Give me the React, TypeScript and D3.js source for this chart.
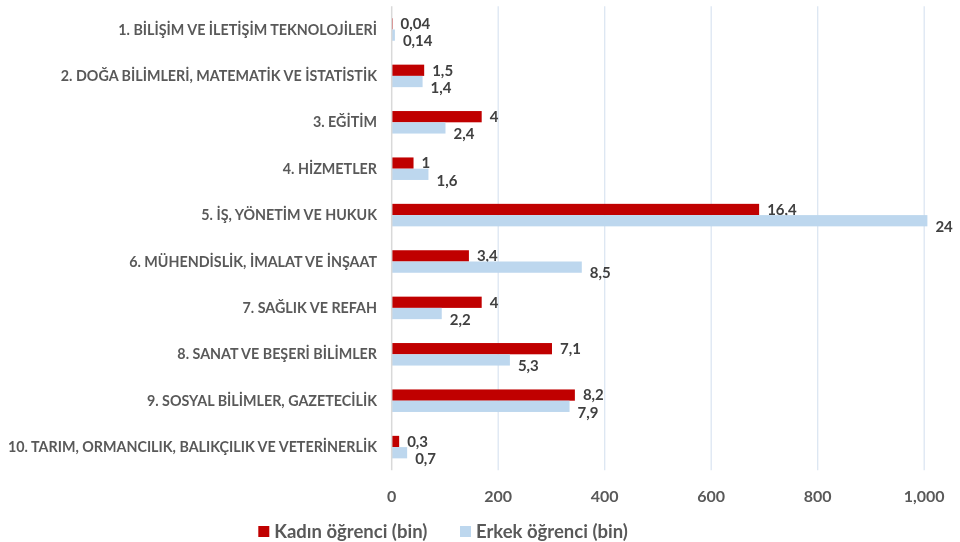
import React, { useEffect, useRef } from 'react';
import * as d3 from 'd3';

const categories = [
  '1. BİLİŞİM VE İLETİŞİM TEKNOLOJİLERİ',
  '2. DOĞA BİLİMLERİ, MATEMATİK VE İSTATİSTİK',
  '3. EĞİTİM',
  '4. HİZMETLER',
  '5. İŞ, YÖNETİM VE HUKUK',
  '6. MÜHENDİSLİK, İMALAT VE İNŞAAT',
  '7. SAĞLIK VE REFAH',
  '8. SANAT VE BEŞERİ BİLİMLER',
  '9. SOSYAL BİLİMLER, GAZETECİLİK',
  '10. TARIM, ORMANCILIK, BALIKÇILIK VE VETERİNERLİK',
];

// bar lengths (bin öğrenci)
const kadinValues = [1.7, 61, 169, 41, 690, 145, 169, 301, 344, 14];
const erkekValues = [6, 58, 101, 69, 1006, 357, 94, 222, 334, 29];

// printed data labels
const kadinLabels = ['0,04', '1,5', '4', '1', '16,4', '3,4', '4', '7,1', '8,2', '0,3'];
const erkekLabels = ['0,14', '1,4', '2,4', '1,6', '24', '8,5', '2,2', '5,3', '7,9', '0,7'];

const seriesNames = ['Kadın öğrenci (bin)', 'Erkek öğrenci (bin)'];
const xTicks = [0, 200, 400, 600, 800, 1000];

const colors = ['#C00000', '#BDD7EE'];
const font = 'Lato, "Open Sans", sans-serif';

const Chart = () => {
  const ref = useRef<SVGSVGElement | null>(null);

  useEffect(() => {
    if (!ref.current) return;
    const svg = d3.select(ref.current);
    svg.selectAll('*').remove();

    const x = d3.scaleLinear().domain([0, 1000]).range([391.7, 924.2]);
    const y = d3
      .scaleBand()
      .domain(categories)
      .range([6.3, 470.3])
      .paddingInner(0.515)
      .paddingOuter(0.2575);
    const ys = d3.scaleBand().domain(seriesNames).range([0, y.bandwidth()]);

    // gridlines
    svg
      .append('g')
      .selectAll('line')
      .data(xTicks.slice(1))
      .enter()
      .append('line')
      .attr('x1', d => x(d))
      .attr('x2', d => x(d))
      .attr('y1', 6.3)
      .attr('y2', 470.3)
      .attr('stroke', '#DCE6F2')
      .attr('stroke-width', 1.3);

    // tick labels
    svg
      .append('g')
      .selectAll('text')
      .data(xTicks)
      .enter()
      .append('text')
      .attr('x', d => x(d))
      .attr('y', 496)
      .attr('dy', '0.35em')
      .attr('text-anchor', 'middle')
      .attr('font-family', font)
      .attr('font-weight', 'bold')
      .attr('font-size', 16)
      .attr('fill', '#595959')
      .text(d => d3.format(',')(d));

    const series = [
      { name: seriesNames[0], values: kadinValues, labels: kadinLabels, color: colors[0], dy: 0 },
      { name: seriesNames[1], values: erkekValues, labels: erkekLabels, color: colors[1], dy: 6 },
    ];

    series.forEach(s => {
      const g = svg.append('g');
      g.selectAll('rect')
        .data(categories)
        .enter()
        .append('rect')
        .attr('x', x(0))
        .attr('y', c => (y(c) as number) + (ys(s.name) as number))
        .attr('width', (c, i) => x(s.values[i]) - x(0))
        .attr('height', ys.bandwidth())
        .attr('fill', s.color);

      g.selectAll('text')
        .data(categories)
        .enter()
        .append('text')
        .attr('x', (c, i) => x(s.values[i]) + 8)
        .attr('y', c => (y(c) as number) + (ys(s.name) as number) + ys.bandwidth() / 2 + s.dy)
        .attr('dy', '0.35em')
        .attr('font-family', font)
        .attr('font-weight', 'bold')
        .attr('font-size', 15)
        .attr('fill', '#404040')
        .text((c, i) => s.labels[i]);
    });

    // axis line
    svg
      .append('line')
      .attr('x1', x(0))
      .attr('x2', x(0))
      .attr('y1', 6.3)
      .attr('y2', 470.3)
      .attr('stroke', '#D9D9D9')
      .attr('stroke-width', 1.5);

    // category labels
    svg
      .append('g')
      .selectAll('text')
      .data(categories)
      .enter()
      .append('text')
      .attr('x', 377)
      .attr('y', c => (y(c) as number) + y.bandwidth() / 2)
      .attr('dy', '0.35em')
      .attr('text-anchor', 'end')
      .attr('font-family', font)
      .attr('font-weight', 'bold')
      .attr('font-size', 14.3)
      .attr('fill', '#595959')
      .text(c => c);

    // legend
    const legendX = [258.3, 460];
    const legend = svg
      .append('g')
      .selectAll('g')
      .data(seriesNames)
      .enter()
      .append('g')
      .attr('transform', (d, i) => `translate(${legendX[i]}, 526)`);
    legend
      .append('rect')
      .attr('width', 11)
      .attr('height', 11)
      .attr('fill', (d, i) => colors[i]);
    legend
      .append('text')
      .attr('x', 16)
      .attr('y', 5.5)
      .attr('dy', '0.35em')
      .attr('font-family', font)
      .attr('font-weight', 'bold')
      .attr('font-size', 18.5)
      .attr('fill', '#595959')
      .text(d => d);
  }, []);

  return (
    <svg
      ref={ref}
      width={960}
      height={542}
      style={{ display: 'block', position: 'fixed', left: 0, top: 0 }}
    />
  );
};

export default function App() {
  return <Chart />;
}
